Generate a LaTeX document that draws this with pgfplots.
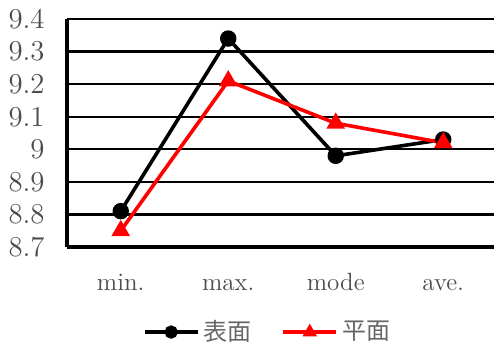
\documentclass[border=0pt]{standalone}
\usepackage{fontspec}
\usepackage{pgfplots}
\pgfplotsset{compat=1.18}
\newfontfamily\cjk{Noto Sans CJK JP}

\begin{document}
\begin{tikzpicture}
\path[use as bounding box] (-33.5pt,-49pt) rectangle (213.5pt,123.5pt);
\begin{axis}[
  at={(0,0)}, anchor=south west,
  scale only axis,
  width=215pt, height=114pt,
  xmin=-0.5, xmax=3.5,
  ymin=8.7, ymax=9.4,
  xtick={0,1,2,3},
  xticklabels={min., max., mode, ave.},
  ytick={8.7,8.8,...,9.4},
  yticklabel style={/pgf/number format/fixed, /pgf/number format/precision=1},
  axis x line*=bottom,
  axis y line*=left,
  axis line style={line width=2pt, -},
  major tick length=0pt,
  ymajorgrids,
  grid style={line width=1.1pt, black},
  xticklabel style={font=\fontsize{12.5}{15}\selectfont, text=black!70,
    anchor=base, inner sep=0pt, yshift=-21.5pt},
  yticklabel style={font=\fontsize{13.5}{16}\selectfont, text=black!70,
    anchor=east, inner sep=0pt, xshift=-11pt},
  clip=false,
  legend columns=2,
  legend style={draw=none, fill=none, at={(0.4686,-0.373)}, anchor=center,
    font=\cjk\fontsize{12}{14}\selectfont, text=black!60,
    /tikz/every even column/.append style={column sep=13pt},
    inner sep=0pt},
  legend image code/.code={%
    \draw[mark repeat=2, mark phase=2, mark size=2.4pt]
      plot coordinates {(0pt,0pt) (13.25pt,0pt) (26.5pt,0pt)};},
]
% 表面
\addplot[black, line width=1.8pt, mark=*, mark size=3.2pt, mark options={solid}]
  coordinates {(0,8.81) (1,9.34) (2,8.98) (3,9.03)};
\addlegendentry{表面}
% 平面
\addplot[red, line width=1.8pt, mark=triangle*, mark size=3.6pt, mark options={solid}]
  coordinates {(0,8.75) (1,9.21) (2,9.08) (3,9.02)};
\addlegendentry{平面}
\end{axis}
\end{tikzpicture}
\end{document}
